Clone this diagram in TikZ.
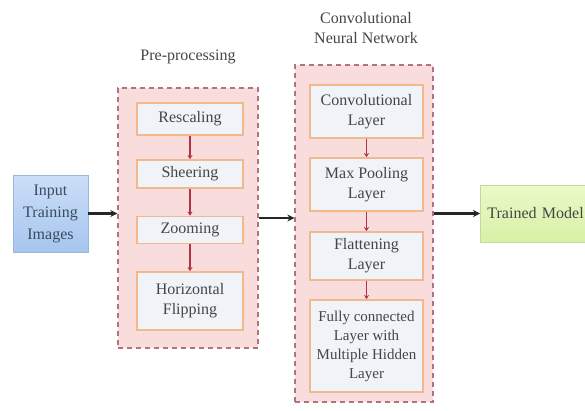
\documentclass[tikz,border=0pt]{standalone}
\usepackage{fontspec}
\setmainfont{Liberation Serif}
\usetikzlibrary{arrows.meta, positioning, calc}

\definecolor{stagefill}{HTML}{F9DCDC}
\definecolor{stageborder}{HTML}{B07480}
\definecolor{stepfill}{HTML}{F0F4F8}
\definecolor{steporange}{HTML}{F2B88E}
\definecolor{stepred}{HTML}{B03444}
\definecolor{textgray}{HTML}{454545}
\definecolor{inputtop}{HTML}{CCDEF8}
\definecolor{inputbot}{HTML}{A6C6EE}
\definecolor{inputborder}{HTML}{9CB6D8}
\definecolor{inputtext}{HTML}{3A4A62}
\definecolor{modeltop}{HTML}{EAFAC8}
\definecolor{modelbot}{HTML}{D8F0A6}
\definecolor{modelborder}{HTML}{C2DA9E}

\begin{document}
\begin{tikzpicture}[x=1pt, y=-1pt, font=\fontsize{16}{20}\selectfont, text=textgray]
  \tikzset{ptr/.style={line width=2.4pt, black!85, -{Stealth[length=7pt, width=7pt]}}}
  \tikzset{stepptr/.style={line width=1.4pt, stepred, -{Stealth[length=4pt, width=5pt]}}}
  \tikzset{stagebox/.style={draw=stageborder, fill=stagefill, line width=1.3pt, dash pattern=on 5pt off 4pt}}
  \tikzset{stepbox/.style={draw=steporange, fill=stepfill, line width=1.8pt, align=center, inner sep=2pt}}

  \useasboundingbox (0,0) rectangle (585,410);
  \clip (0,0) rectangle (585,410);
  \fill[white] (0,0) rectangle (585,410);

  % input
  \node[draw=inputborder, line width=0.8pt, top color=inputtop, bottom color=inputbot,
        text=inputtext, align=center, minimum width=75pt, minimum height=77pt,
        font=\fontsize{16}{22}\selectfont] at (50.5, 213.5) (input) {Input\\Training\\Images};

  % pre-processing
  \node[stagebox, minimum width=140pt, minimum height=260pt] at (188, 218) (pre) {};
  \node at (188, 57) (pre-title) {Pre-processing};
  \foreach \id/\y/\h/\txt in {resc/119/32/{Rescaling}, shear/174/28/{Sheering},
                              zoom/230/27/{Zooming}, flip/301/58/{Horizontal\\Flipping}}{
    \node[stepbox, minimum width=106pt, minimum height=\h pt] at (190, \y) (\id) {\txt};
  }
  \foreach \a/\b in {resc/shear, shear/zoom, zoom/flip}{
    \draw[stepptr] (\a) -- (\b);
  }

  % convolutional neural network
  \node[stagebox, minimum width=138pt, minimum height=337pt] at (364, 233.5) (cnn) {};
  \node[align=center] at (366, 28) (cnn-title) {Convolutional\\Neural Network};
  \foreach \id/\y/\h/\txt in {conv/111.5/53/{Convolutional\\Layer}, pool/184.5/53/{Max Pooling\\Layer},
                              flat/256/48/{Flattening\\Layer}}{
    \node[stepbox, minimum width=113pt, minimum height=\h pt] at (366.5, \y) (\id) {\txt};
  }
  \node[stepbox, minimum width=113pt, minimum height=92pt, font=\fontsize{15}{19}\selectfont]
    at (366.5, 346) (fc) {Fully connected\\Layer with\\Multiple Hidden\\Layer};
  \foreach \a/\b in {conv/pool, pool/flat, flat/fc}{
    \draw[stepptr] (\a) -- (\b);
  }

  % trained model
  \node[draw=modelborder, line width=0.8pt, top color=modeltop, bottom color=modelbot,
        anchor=west, text width=116pt, inner xsep=7pt, align=left, minimum height=57pt]
    at (480, 213.5) (model) {Trained Model};

  \draw[ptr] (input.east) -- (input.east -| pre.west);
  \draw[ptr] (pre.east) -- (pre.east -| cnn.west);
  \draw[ptr] (model.west -| cnn.east) -- (model.west);
\end{tikzpicture}
\end{document}
